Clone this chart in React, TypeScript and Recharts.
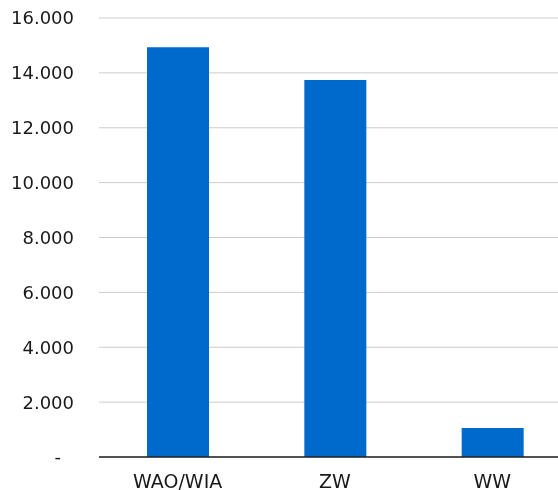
import React from 'react'
import { Bar, BarChart, CartesianGrid, XAxis, YAxis } from 'recharts'

const categories = ['WAO/WIA', 'ZW', 'WW']
const values = [14930, 13740, 1060]
const yTicks = [0, 2000, 4000, 6000, 8000, 10000, 12000, 14000, 16000]

const data = categories.map((name, i) => ({ name, value: values[i] }))

const fontFamily = 'DejaVu Sans, Verdana, sans-serif'

// accounting style: 0 becomes a dash that sits a bit left of the digits
const YTick = (props: any) => {
  const { x, y, payload } = props
  const v = payload.value as number
  const label = v === 0 ? '-' : v.toLocaleString('de-DE')
  return (
    <text
      x={v === 0 ? x - 13 : x}
      y={y}
      dy="0.355em"
      textAnchor="end"
      fontFamily={fontFamily}
      fontSize={18}
      fill="#1a1a1a"
    >
      {label}
    </text>
  )
}

export default function App() {
  return (
    <div style={{ position: 'fixed', left: 0, top: 0, width: 558, height: 490, overflow: 'hidden' }}>
      <BarChart
        width={571}
        height={490}
        data={data}
        margin={{ top: 18, right: 0, bottom: 0, left: 0 }}
      >
        <CartesianGrid horizontal vertical={false} stroke="#cccccc" />
        <XAxis
          dataKey="name"
          tick={{ fontFamily, fontSize: 19, fill: '#1a1a1a' }}
          tickLine={false}
          axisLine={{ stroke: '#222', strokeWidth: 1.5 }}
          tickSize={0}
          tickMargin={18}
          height={33}
          interval={0}
        />
        <YAxis
          domain={[0, 16000]}
          ticks={yTicks}
          tick={<YTick />}
          tickLine={false}
          axisLine={false}
          tickSize={0}
          tickMargin={25}
          width={99}
        />
        <Bar dataKey="value" fill="#006ACC" barSize={62} isAnimationActive={false} />
      </BarChart>
    </div>
  )
}
